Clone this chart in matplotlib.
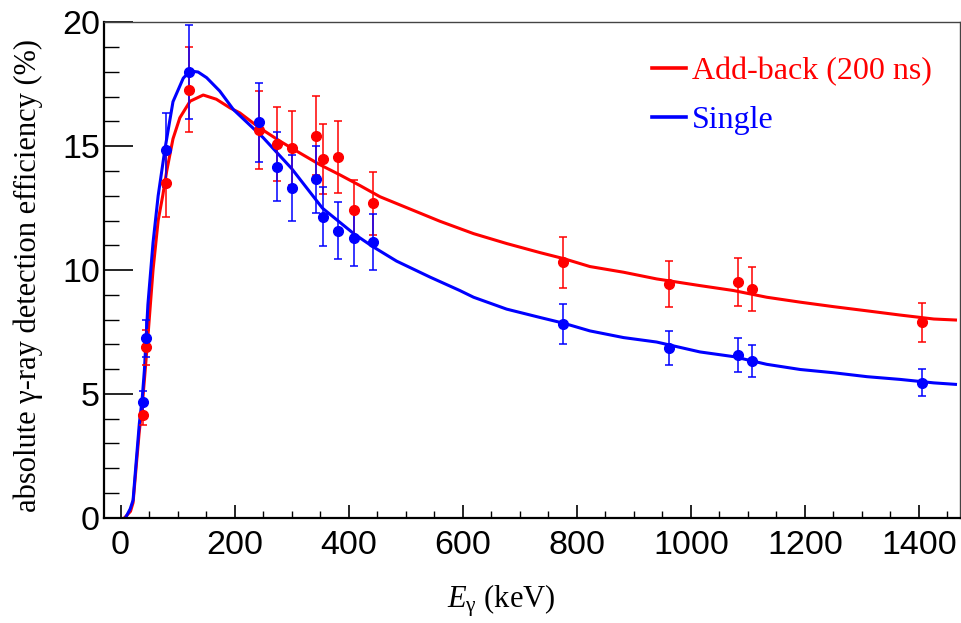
import matplotlib
matplotlib.use("Agg")
import matplotlib.pyplot as plt
from matplotlib.lines import Line2D
from matplotlib.ticker import MultipleLocator

# measured points (energy in keV, efficiency in %)
energy = [39.5, 45.5, 80.5, 120, 243.5, 275, 300, 343, 354.5, 382, 410, 442,
          775.5, 962, 1083, 1107.5, 1405]
addback_eff = [4.15, 6.87, 13.52, 17.28, 15.65, 15.09, 14.93, 15.43, 14.48, 14.57,
               12.41, 12.70, 10.32, 9.44, 9.50, 9.24, 7.88]
addback_err = [0.42, 0.70, 1.37, 1.72, 1.58, 1.50, 1.50, 1.58, 1.42, 1.45,
               1.23, 1.27, 1.03, 0.93, 0.97, 0.90, 0.78]
single_eff = [4.67, 7.24, 14.85, 18.0, 15.97, 14.18, 13.30, 13.67, 12.15, 11.59,
              11.30, 11.13, 7.83, 6.86, 6.57, 6.32, 5.44]
single_err = [0.45, 0.76, 1.50, 1.90, 1.60, 1.40, 1.34, 1.36, 1.20, 1.15,
              1.13, 1.12, 0.80, 0.68, 0.68, 0.65, 0.55]

# fitted curves
addback_fit_e = [7.5, 17.5, 22, 28, 33, 38, 42, 48, 57, 66, 74, 81, 92, 104, 122,
                 145, 168, 192, 209, 244, 280, 315, 350, 385, 420, 455, 560, 619,
                 677, 736, 777, 823, 882, 940, 1016, 1075, 1133, 1192, 1250, 1309,
                 1367, 1426, 1464]
addback_fit = [0.0, 0.25, 0.6, 2.2, 3.5, 4.5, 5.6, 7.3, 10.0, 12.0, 13.0, 14.0, 15.3,
               16.15, 16.82, 17.07, 16.9, 16.55, 16.35, 15.74, 15.2, 14.72, 14.25,
               13.84, 13.41, 12.96, 11.97, 11.47, 11.07, 10.7, 10.46, 10.14, 9.91,
               9.64, 9.37, 9.17, 8.9, 8.7, 8.52, 8.35, 8.18, 8.02, 7.98]
single_fit_e = [9, 17, 22, 28, 33, 38, 42, 48, 57, 66, 78, 92, 110, 122, 136, 151,
                174, 198, 250, 300, 354, 410, 442, 484, 543, 595, 619, 677, 736,
                777, 823, 882, 940, 1016, 1075, 1133, 1192, 1250, 1309, 1367, 1426,
                1464]
single_fit = [0.0, 0.35, 0.7, 2.4, 3.8, 4.8, 6.0, 8.6, 11.1, 13.0, 14.9, 16.8, 17.75,
              18.04, 18.0, 17.77, 17.23, 16.48, 15.35, 14.1, 12.5, 11.45, 10.95,
              10.36, 9.71, 9.17, 8.9, 8.42, 8.08, 7.85, 7.54, 7.27, 7.09, 6.69, 6.5,
              6.19, 5.98, 5.85, 5.69, 5.58, 5.44, 5.38]

RED = "#ff0000"
BLUE = "#0000ff"
serif = "Liberation Serif"
sans = "Liberation Sans"

plt.rcParams["mathtext.fontset"] = "custom"
plt.rcParams["mathtext.rm"] = serif
plt.rcParams["mathtext.it"] = serif + ":italic"

fig = plt.figure(figsize=(9.61, 6.23), dpi=100)
ax = fig.add_axes([0.1082, 0.1693, 0.8908, 0.7946])

ax.plot(addback_fit_e, addback_fit, color=RED, lw=2.2, zorder=2)
ax.plot(single_fit_e, single_fit, color=BLUE, lw=2.2, zorder=2)
ax.errorbar(energy, addback_eff, yerr=addback_err, fmt="o", color=RED, ms=7,
            elinewidth=1.1, capsize=3, capthick=1.1, zorder=3)
ax.errorbar(energy, single_eff, yerr=single_err, fmt="o", color=BLUE, ms=7,
            elinewidth=1.1, capsize=3, capthick=1.1, zorder=3)

ax.set_xlim(-29, 1472)
ax.set_ylim(0, 20)
ax.xaxis.set_major_locator(MultipleLocator(200))
ax.xaxis.set_minor_locator(MultipleLocator(50))
ax.yaxis.set_major_locator(MultipleLocator(5))
ax.yaxis.set_minor_locator(MultipleLocator(1))
ax.tick_params(axis="y", which="major", direction="in", length=21, width=1.2, pad=3)
ax.tick_params(axis="y", which="minor", direction="in", length=10.5, width=1.0)
ax.tick_params(axis="x", which="major", direction="in", length=9.7, width=1.2, pad=9)
ax.tick_params(axis="x", which="minor", direction="in", length=5, width=1.0)
for lab in ax.get_xticklabels() + ax.get_yticklabels():
    lab.set_family(sans)
    lab.set_fontsize(24.5)

for s in ["left", "bottom"]:
    ax.spines[s].set_linewidth(1.6)
    ax.spines[s].set_color("black")
for s in ["top", "right"]:
    ax.spines[s].set_linewidth(1.0)
    ax.spines[s].set_color("#444444")

fig.text(0.029, 0.558, "absolute \u03b3-ray detection efficiency (%)", rotation=90,
         ha="center", va="center", family=serif, fontsize=22)
fig.text(0.522, 0.035, r"$E_{\mathrm{\gamma}}$ (keV)", ha="center", va="center",
         family=serif, fontsize=22)

handles = [Line2D([], [], color=RED, lw=2.6), Line2D([], [], color=BLUE, lw=2.6)]
leg = ax.legend(handles, ["Add-back (200 ns)", "Single"], loc="upper left",
                bbox_to_anchor=(0.607, 0.988), frameon=False, handlelength=1.05,
                handletextpad=0.18, labelspacing=0.6,
                prop={"family": serif, "size": 23})
for txt, c in zip(leg.get_texts(), [RED, BLUE]):
    txt.set_color(c)

fig.savefig("out.png", dpi=100)
